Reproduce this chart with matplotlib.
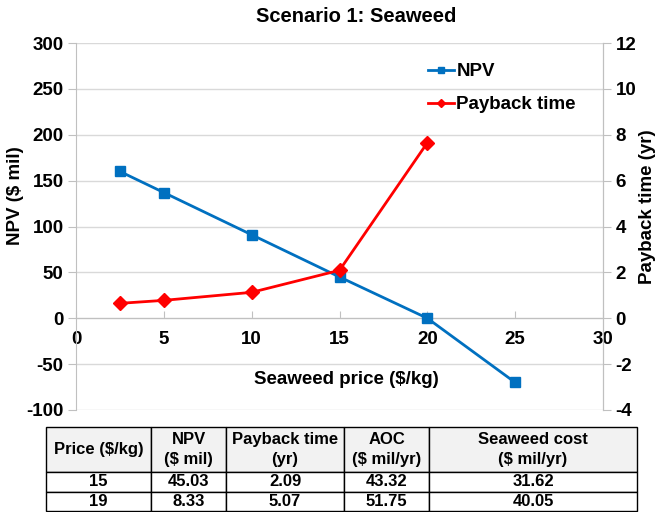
import matplotlib.pyplot as plt
from matplotlib.ticker import MultipleLocator

plt.rcParams['font.family'] = ['Liberation Sans', 'DejaVu Sans']
plt.rcParams['font.weight'] = 'bold'
plt.rcParams['axes.unicode_minus'] = False

# Chart data
price = [2.5, 5, 10, 15, 20, 25]
npv = [160, 137, 91, 45, 0, -70]
payback_price = [2.5, 5, 10, 15, 20]
payback = [0.65, 0.78, 1.13, 2.09, 7.65]

# Table data
col_labels = ["Price ($/kg)", "NPV\n($ mil)", "Payback time\n(yr)", "AOC\n($ mil/yr)", "Seaweed cost\n($ mil/yr)"]
rows = [["15", "45.03", "2.09", "43.32", "31.62"],
        ["19", "8.33", "5.07", "51.75", "40.05"]]

W, H = 659, 512
fig = plt.figure(figsize=(W / 100, H / 100), dpi=100)
ax = fig.add_axes([76 / W, (H - 410) / H, (603 - 76) / W, (410 - 43) / H])

grey = '#c0c0c0'
fs = 13.5
ax.plot(price, npv, color='#0070c0', lw=2, marker='s', ms=7.5, label='NPV', zorder=3)
ax.set_xlim(0, 30)
ax.set_ylim(-100, 300)
ax.yaxis.set_major_locator(MultipleLocator(50))
ax.xaxis.set_major_locator(MultipleLocator(5))
ax.grid(axis='y', color='#d9d9d9', lw=1)
ax.set_axisbelow(True)

ax.spines['top'].set_visible(False)
ax.spines['bottom'].set_position(('data', 0))
ax.spines['bottom'].set_color(grey)
ax.spines['left'].set_color(grey)
ax.spines['right'].set_color(grey)
ax.tick_params(axis='x', direction='in', length=5, color=grey, pad=9, labelsize=fs)
ax.tick_params(axis='y', direction='out', length=6, color=grey, labelsize=fs, pad=3)

ax2 = ax.twinx()
ax2.plot(payback_price, payback, color='#ff0000', lw=2, marker='D', ms=7.5, label='Payback time', zorder=3)
ax2.set_ylim(-4, 12)
ax2.yaxis.set_major_locator(MultipleLocator(2))
for s in ['top', 'bottom', 'left']:
    ax2.spines[s].set_visible(False)
ax2.spines['right'].set_color(grey)
ax2.tick_params(axis='y', direction='out', length=6, color=grey, labelsize=fs, pad=3)

h1, l1 = ax.get_legend_handles_labels()
h2, l2 = ax2.get_legend_handles_labels()
ax2.legend(h1 + h2, l1 + l2, loc='upper left', bbox_to_anchor=(428 / W, (H - 63) / H),
           bbox_transform=fig.transFigure, frameon=False, fontsize=fs,
           handlelength=1.4, handletextpad=0.12, labelspacing=0.85, borderpad=0,
           borderaxespad=0, markerscale=0.55)

fig.text(356 / W, 1 - 17 / H, 'Scenario 1: Seaweed', ha='center', va='center', fontsize=14.5, fontweight='bold')
fig.text(346 / W, 1 - 380 / H, 'Seaweed price ($/kg)', ha='center', va='center', fontsize=fs, fontweight='bold')
fig.text(16 / W, 1 - 196 / H, 'NPV ($ mil)', ha='center', va='center', rotation=90, fontsize=fs, fontweight='bold')
fig.text(647 / W, 1 - 207 / H, 'Payback time (yr)', ha='center', va='center', rotation=90, fontsize=fs, fontweight='bold')

# Table
tax = fig.add_axes([46 / W, (H - 511) / H, (637 - 46) / W, (511 - 427) / H])
tax.axis('off')
col_w = [105, 75, 118, 85, 208]
tot = sum(col_w)
tbl = tax.table(cellText=rows, colLabels=col_labels, colWidths=[c / tot for c in col_w],
                cellLoc='center', bbox=[0, 0, 1, 1])
tbl.auto_set_font_size(False)
for (r, c), cell in tbl.get_celld().items():
    cell.set_edgecolor('black')
    cell.set_linewidth(1)
    cell.get_text().set_fontsize(12)
    cell.get_text().set_fontweight('bold')
    if r == 0:
        cell.set_height(45)
        cell.set_facecolor('#f2f2f2')
        cell.get_text().set_linespacing(1.35)
    else:
        cell.set_height(19.5)

fig.savefig('out.png', dpi=100)
